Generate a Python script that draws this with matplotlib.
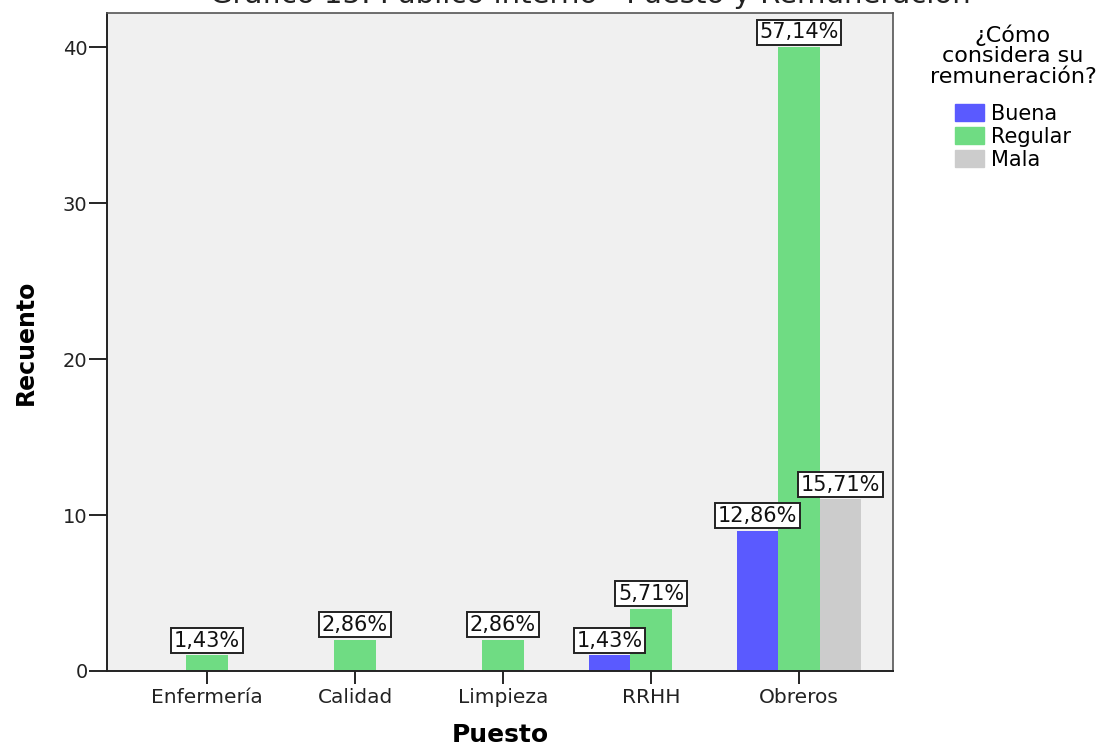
import matplotlib.pyplot as plt
import matplotlib.patches as mpatches
import numpy as np

puestos = ['Enfermería', 'Calidad', 'Limpieza', 'RRHH', 'Obreros']
respuestas = ['Buena', 'Regular', 'Mala']
buena = [0, 0, 0, 1, 9]
regular = [1, 2, 2, 4, 40]
mala = [0, 0, 0, 0, 11]
total = 70

colores = ['#5A5AFF', '#6FDC83', '#CCCCCC']

plt.rcParams['font.family'] = ['DejaVu Sans']

fig = plt.figure(figsize=(11.1, 7.46), dpi=100)
ax = fig.add_axes([107/1110, 1 - 671/746, (893 - 107)/1110, (671 - 13)/746])
ax.set_facecolor('#F0F0F0')

x = np.arange(len(puestos))
w = 0.28
for off, serie, color in zip([-w, 0, w], [buena, regular, mala], colores):
    for xi, v in zip(x, serie):
        if v == 0:
            continue
        ax.bar(xi + off, v, width=w, color=color, linewidth=0)
        pct = f'{v / total * 100:.2f}%'.replace('.', ',')
        ax.annotate(pct, (xi + off, v), xytext=(0, 3.5), textcoords='offset points',
                    ha='center', va='bottom', fontsize=15, color='#111111',
                    bbox=dict(boxstyle='square,pad=0.12', fc='white', ec='#222222', lw=1.4))

ax.set_xlim(-0.676, 4.635)
ax.set_ylim(0, 42.2)
ax.set_yticks([0, 10, 20, 30, 40])
ax.set_xticks(x)
ax.set_xticklabels(puestos)
ax.tick_params(axis='y', length=13, width=1.2, labelsize=14, pad=1, labelcolor='#222222')
ax.tick_params(axis='x', length=9, width=1.2, labelsize=14.5, pad=3, labelcolor='#222222')
for s in ['left', 'bottom']:
    ax.spines[s].set_linewidth(1.4)
    ax.spines[s].set_color('#222222')
for s in ['top', 'right']:
    ax.spines[s].set_linewidth(1.2)
    ax.spines[s].set_color('#555555')

ax.set_ylabel('Recuento', fontsize=17, fontweight='bold', labelpad=18)
ax.set_xlabel('Puesto', fontsize=18, fontweight='bold', labelpad=12)

fig.text(0.532, 1.0 + 6/746, 'Gráfico 15: Público interno - Puesto y Remuneración',
         ha='center', va='center', fontsize=21, color='#222222')

handles = [mpatches.Patch(color=c, label=r) for c, r in zip(colores, respuestas)]
leg = fig.legend(handles=handles, title='¿Cómo\nconsidera su\nremuneración?',
                 loc='upper center', bbox_to_anchor=(1013/1110, 1 - 24/746), frameon=False,
                 fontsize=15, title_fontsize=16, handlelength=1.4, handleheight=0.9,
                 handletextpad=0.3, labelspacing=0.15, borderaxespad=0, borderpad=0)
leg.get_title().set_multialignment('center')
leg.get_title().set_linespacing(1.05)
leg._legend_box.sep = 12

fig.savefig('out.png', dpi=100)
